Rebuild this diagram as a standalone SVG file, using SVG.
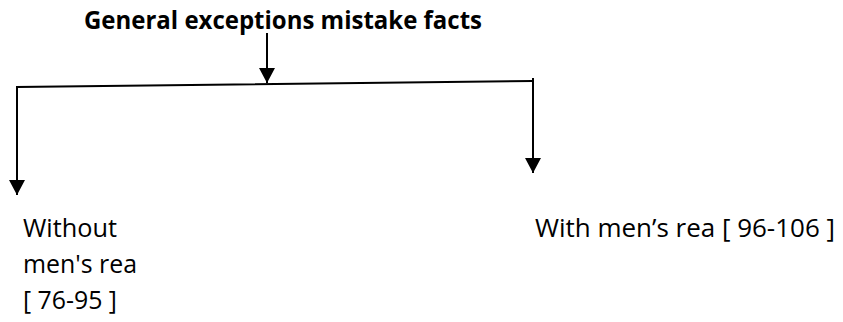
<svg xmlns="http://www.w3.org/2000/svg" width="843" height="322" viewBox="0 0 843 322">
<style>
.t{font-family:"Open Sans","Noto Sans","Liberation Sans",sans-serif;font-size:26px;fill:#000}
.b{font-weight:bold;font-size:25px}
.c{stroke:#000;stroke-width:2;fill:none}
</style>
<defs>
<marker id="ah" markerUnits="userSpaceOnUse" markerWidth="16" markerHeight="16" viewBox="0 0 16 16" refX="15" refY="8" orient="auto">
<path d="M0,0 L15,8 L0,16 Z" fill="#000"/>
</marker>
</defs>
<rect width="843" height="322" fill="#fff"/>
<g id="title"><text class="t b" x="84" y="29" textLength="398" lengthAdjust="spacingAndGlyphs">General exceptions mistake facts</text></g>
<g id="left"><text class="t" x="23" y="237" textLength="94" lengthAdjust="spacingAndGlyphs">Without</text>
<text class="t" x="23" y="273" textLength="114" lengthAdjust="spacingAndGlyphs">men's rea</text>
<text class="t" x="23" y="309" textLength="94" lengthAdjust="spacingAndGlyphs">[ 76-95 ]</text></g>
<g id="right"><text class="t" x="535" y="237" textLength="300" lengthAdjust="spacingAndGlyphs">With men’s rea [ 96-106 ]</text></g>
<g id="connectors">
<line class="c" x1="267" y1="33" x2="267" y2="83" marker-end="url(#ah)"/>
<polyline class="c" points="17,195 17,87 533,81"/>
<line class="c" x1="17" y1="180" x2="17" y2="195" marker-end="url(#ah)"/>
<line class="c" x1="533" y1="78" x2="533" y2="173" marker-end="url(#ah)"/>
</g>
</svg>
